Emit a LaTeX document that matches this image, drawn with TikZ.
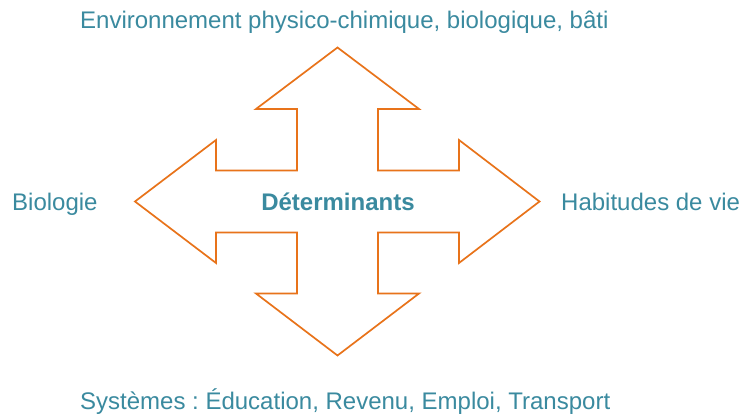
\documentclass[tikz,border=0pt]{standalone}
\usepackage{fontspec}
\setmainfont{Liberation Sans}
\frenchspacing
\definecolor{tealtxt}{HTML}{3A8A9F}
\definecolor{arroworange}{HTML}{E8731A}
\begin{document}
\begin{tikzpicture}[x=1pt,y=-1pt,
  lbl/.style={inner sep=0pt, anchor=base west, text=tealtxt, font=\fontsize{24}{28}\selectfont},
  ctr/.style={inner sep=0pt, anchor=base, text=tealtxt, font=\fontsize{24}{28}\selectfont\bfseries},
  crossarrow/.style={draw=arroworange, line width=1.7pt, line join=miter, fill=white}]
\useasboundingbox (0,0) rectangle (741,414);
\fill[white] (0,0) rectangle (741,414);
\coordinate (c) at (337.5,201.5);
\draw[crossarrow] (337.5,47.5) -- (419,109) -- (378,109) -- (378,170.5) -- (459,170.5) -- (459,140)
  -- (539.5,201.5) -- (459,263) -- (459,232.5) -- (378,232.5) -- (378,293.5) -- (419,293.5)
  -- (337.5,355.5) -- (256,293.5) -- (297,293.5) -- (297,232.5) -- (216,232.5) -- (216,263)
  -- (135,201.5) -- (216,140) -- (216,170.5) -- (297,170.5) -- (297,109) -- (256,109) -- cycle;
\node[ctr] (det) at (338,211) {Déterminants};
\node[lbl] (top) at (80,28.5) {Environnement physico-chimique, biologique, bâti};
\node[lbl] (left) at (12,210) {Biologie};
\node[lbl] (right) at (561,210) {Habitudes de vie};
\node[lbl] (bottom) at (80,409) {Systèmes : Éducation, Revenu, Emploi, Transport};
\end{tikzpicture}
\end{document}
